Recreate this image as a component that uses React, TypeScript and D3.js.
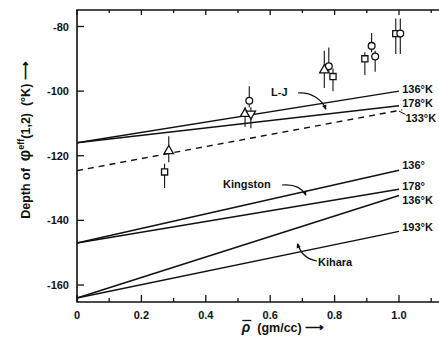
import React, { useEffect, useRef } from 'react';
import * as d3 from 'd3';

// straight theory curves, [rho, depth] end points
const ljCurve136 = [[0, -116], [1.0, -100]];
const ljCurve178 = [[0, -116], [1.0, -104.5]];
const dashed133 = [[0, -124.6], [1.01, -105.8]];
const kingston136 = [[0, -147], [1.0, -124.5]];
const kingston178 = [[0, -147], [1.0, -130.4]];
const kihara136 = [[0, -164], [1.0, -132.3]];
const kihara193 = [[0, -164], [1.0, -143.4]];

// measured points with error bars
const points = [
  { shape: 'tri', rho: 0.285, depth: -118.5, hi: -114, lo: -122 },
  { shape: 'sq', rho: 0.272, depth: -125, hi: -122.5, lo: -130 },
  { shape: 'circ', rho: 0.535, depth: -103, hi: -98.5, lo: -105 },
  { shape: 'tri', rho: 0.522, depth: -107, hi: -105, lo: -111 },
  { shape: 'itri', rho: 0.54, depth: -107, hi: -105, lo: -111.5 },
  { shape: 'circ', rho: 0.782, depth: -92.3, hi: -86.5, lo: -94 },
  { shape: 'tri', rho: 0.768, depth: -93.5, hi: -87.5, lo: -99 },
  { shape: 'sq', rho: 0.795, depth: -95.5, hi: -93, lo: -100 },
  { shape: 'circ', rho: 0.915, depth: -86, hi: -82, lo: -88 },
  { shape: 'sq', rho: 0.894, depth: -90, hi: -88, lo: -95 },
  { shape: 'circ', rho: 0.926, depth: -89.3, hi: -87.5, lo: -94 },
  { shape: 'sq', rho: 0.99, depth: -82.2, hi: -77.5, lo: -88.5 },
  { shape: 'circ', rho: 1.004, depth: -82.2, hi: -77.5, lo: -88.5 },
];

// end labels: [text, depth]
const endLabels: [string, number][] = [
  ['136°K', -99.3],
  ['178°K', -103.8],
  ['133°K', -108.2],
  ['136°', -122.9],
  ['178°', -129.3],
  ['136°K', -133.7],
  ['193°K', -142.1],
];

const xTicks = [0, 0.2, 0.4, 0.6, 0.8, 1.0];
const xMinor = [0.1, 0.3, 0.5, 0.7, 0.9, 1.1];
const yTicks = [-80, -100, -120, -140, -160];

export default function App() {
  const svgRef = useRef<SVGSVGElement>(null);

  useEffect(() => {
    const W = 439;
    const svg = d3.select(svgRef.current);
    svg.selectAll('*').remove();

    const left = 77, top = 10, bottom = 302;
    const x = d3.scaleLinear().domain([0, 1]).range([left, 399]);
    const y = d3.scaleLinear().domain([-80, -160]).range([26.5, 285]);
    const font = '"Liberation Sans", Arial, sans-serif';

    // frame
    svg.append('path')
      .attr('d', `M${W},${top}H${left}V${bottom}H${W}`)
      .attr('fill', 'none').attr('stroke', '#111').attr('stroke-width', 1.6);

    // ticks
    const tk = svg.append('g').attr('stroke', '#111').attr('stroke-width', 1.3);
    xTicks.forEach(t => {
      tk.append('line').attr('x1', x(t)).attr('x2', x(t)).attr('y1', bottom).attr('y2', bottom - 7);
      tk.append('line').attr('x1', x(t)).attr('x2', x(t)).attr('y1', top).attr('y2', top + 5);
    });
    xMinor.forEach(t => {
      tk.append('line').attr('x1', x(t)).attr('x2', x(t)).attr('y1', bottom).attr('y2', bottom - 4);
      tk.append('line').attr('x1', x(t)).attr('x2', x(t)).attr('y1', top).attr('y2', top + 3);
    });
    yTicks.forEach(t => {
      tk.append('line').attr('x1', left).attr('x2', left + 7).attr('y1', y(t)).attr('y2', y(t));
    });

    svg.append('g').selectAll('text').data(xTicks).join('text')
      .attr('x', d => x(d)).attr('y', 319)
      .attr('text-anchor', 'middle')
      .attr('font-family', font).attr('font-weight', 'bold').attr('font-size', 11)
      .attr('fill', '#111')
      .text(d => d === 0 ? '0' : d.toFixed(1));

    svg.append('g').selectAll('text').data(yTicks).join('text')
      .attr('x', 69).attr('y', d => y(d) + 4)
      .attr('text-anchor', 'end')
      .attr('font-family', font).attr('font-weight', 'bold').attr('font-size', 11)
      .attr('fill', '#111')
      .text(d => String(d));

    // curves
    const line = d3.line<number[]>().x(d => x(d[0])).y(d => y(d[1]));
    [ljCurve136, ljCurve178, kingston136, kingston178, kihara136, kihara193].forEach(c => {
      svg.append('path').attr('d', line(c)).attr('fill', 'none')
        .attr('stroke', '#111').attr('stroke-width', 1.5);
    });
    svg.append('path').attr('d', line(dashed133)).attr('fill', 'none')
      .attr('stroke', '#111').attr('stroke-width', 1.4).attr('stroke-dasharray', '6,5');

    // error bars
    svg.append('g').selectAll('line').data(points).join('line')
      .attr('x1', d => x(d.rho)).attr('x2', d => x(d.rho))
      .attr('y1', d => y(d.hi)).attr('y2', d => y(d.lo))
      .attr('stroke', '#111').attr('stroke-width', 1.1);

    // markers
    const sym = (s: string) => {
      if (s === 'tri' || s === 'itri') return d3.symbol(d3.symbolTriangle, 38)();
      if (s === 'sq') return d3.symbol(d3.symbolSquare, 38)();
      return d3.symbol(d3.symbolCircle, 36)();
    };
    svg.append('g').selectAll('path').data(points).join('path')
      .attr('d', d => sym(d.shape))
      .attr('transform', d => `translate(${x(d.rho)},${y(d.depth)})${d.shape === 'itri' ? ' rotate(180)' : ''}`)
      .attr('fill', '#fff').attr('stroke', '#111').attr('stroke-width', 1.3);

    // end labels
    svg.append('g').selectAll('text').data(endLabels).join('text')
      .attr('x', (d, i) => x(i === 2 ? 1.02 : 1.01)).attr('y', d => y(d[1]) + 4)
      .attr('font-family', font).attr('font-weight', 'bold').attr('font-size', 11)
      .attr('fill', '#111')
      .text(d => d[0]);
    svg.append('line')
      .attr('x1', x(1.0)).attr('y1', y(-106.2)).attr('x2', x(1.02)).attr('y2', y(-107.2))
      .attr('stroke', '#111').attr('stroke-width', 1);

    // curve names with curved pointers
    const ann = svg.append('g').attr('font-family', font).attr('font-weight', 'bold')
      .attr('font-size', 11).attr('fill', '#111');
    ann.append('text').attr('x', 271).attr('y', 96).text('L-J');
    ann.append('text').attr('x', 223).attr('y', 188).text('Kingston');
    ann.append('text').attr('x', 318).attr('y', 266).text('Kihara');

    const arrows = [
      'M298,93 C312,92 322,100 326,109',
      'M282,185 C294,184 302,188 306,195',
      'M317,261 C306,259 300,252 298,244',
    ];
    arrows.forEach(a => {
      svg.append('path').attr('d', a).attr('fill', 'none')
        .attr('stroke', '#111').attr('stroke-width', 1.2);
    });
    [[326, 110, 70], [306, 196, 70], [297, 243, -110]].forEach(([px, py, ang]) => {
      svg.append('path').attr('d', 'M0,0 L-5,-2.2 L-5,2.2 Z')
        .attr('transform', `translate(${px},${py}) rotate(${ang})`)
        .attr('fill', '#111');
    });

    // axis titles
    const yt = svg.append('text')
      .attr('transform', 'translate(30,140) rotate(-90)')
      .attr('text-anchor', 'middle')
      .attr('font-family', font).attr('font-weight', 'bold').attr('font-size', 12.5)
      .attr('fill', '#111');
    yt.append('tspan').text('Depth of\u00a0\u00a0');
    yt.append('tspan').attr('font-size', 16).text('φ');
    yt.append('tspan').attr('dy', -6).attr('font-size', 9).text('eff');
    yt.append('tspan').attr('dy', 6).text('(1,2)\u00a0\u00a0(°K)\u00a0⟶');

    const xt = svg.append('text')
      .attr('x', 283).attr('y', 332)
      .attr('text-anchor', 'middle')
      .attr('font-family', font).attr('font-weight', 'bold').attr('font-size', 12.5)
      .attr('fill', '#111');
    xt.append('tspan').attr('font-style', 'italic').attr('font-size', 14).text('ρ');
    xt.append('tspan').text('\u00a0\u00a0(gm/cc)\u00a0⟶');
    // bar over rho
    const bb = (xt.select('tspan').node() as SVGTSpanElement).getBBox();
    svg.append('line')
      .attr('x1', bb.x + 1.5).attr('x2', bb.x + bb.width + 0.5)
      .attr('y1', bb.y + 1.5).attr('y2', bb.y + 1.5)
      .attr('stroke', '#111').attr('stroke-width', 1.3);
  }, []);

  return (
    <div style={{ position: 'fixed', left: 0, top: 0, width: 439, height: 343, background: '#fff' }}>
      <svg ref={svgRef} width={439} height={343} style={{ display: 'block' }} />
    </div>
  );
}
